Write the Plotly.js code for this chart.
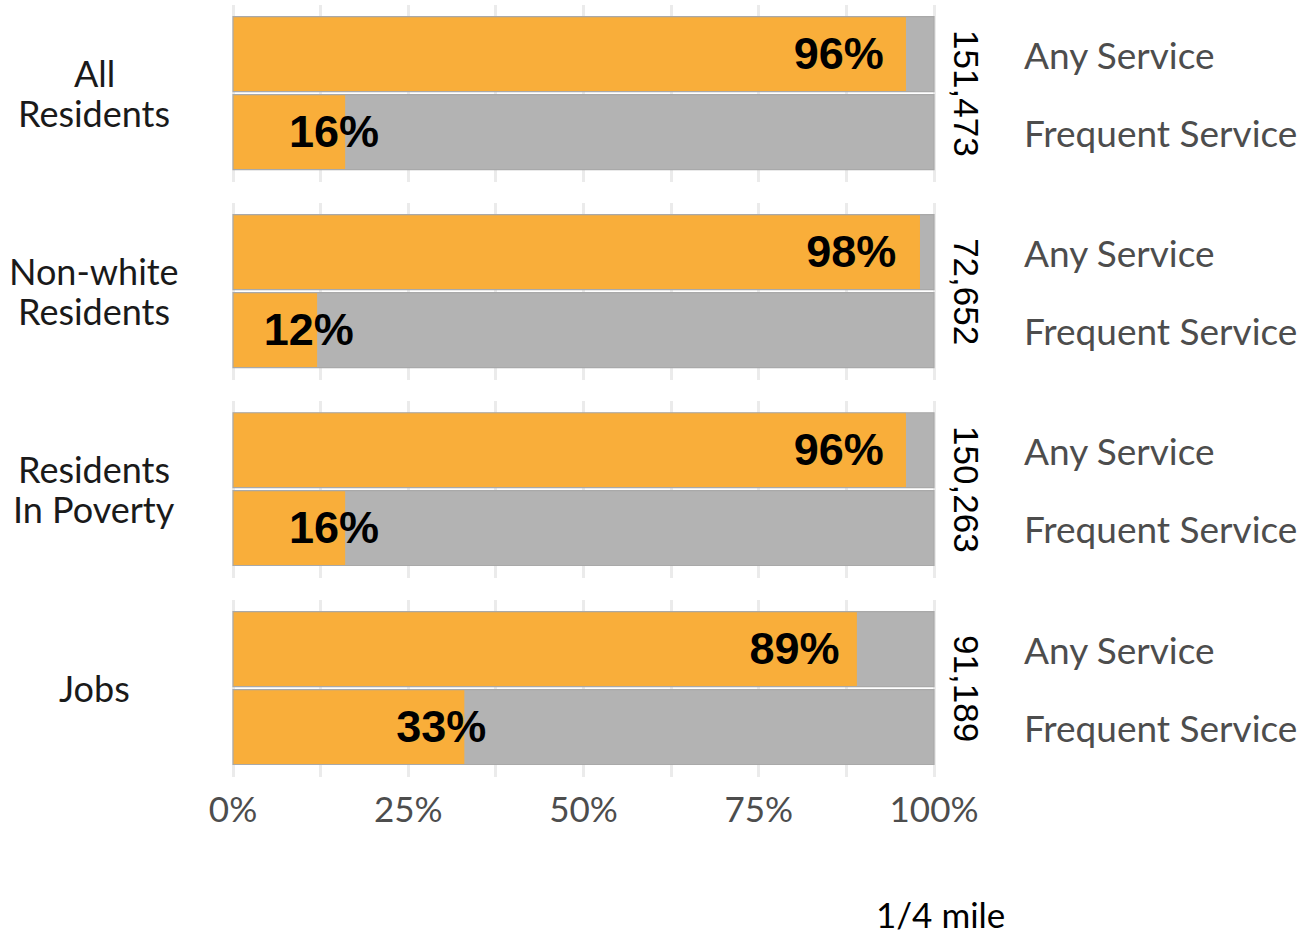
<!DOCTYPE html>
<html>
<head>
<meta charset="utf-8">
<script src="https://cdn.plot.ly/plotly-3.0.1.min.js"></script>
<style>html,body{margin:0;padding:0;background:#fff;}#chart{width:1305px;height:938px;}</style>
</head>
<body>
<div id="chart"></div>
<script>
const groups = ["All<br>Residents", "Non-white<br>Residents", "Residents<br>In Poverty", "Jobs"];
const anyService = [96, 98, 96, 89];
const frequentService = [16, 12, 16, 33];
const totals = ["151,473", "72,652", "150,263", "91,189"];
const serviceLabels = ["Any Service", "Frequent Service"];
const xTickVals = [0, 25, 50, 75, 100];
const xTickText = ["0%", "25%", "50%", "75%", "100%"];
const footerLabel = "1/4 mile";

const ORANGE = "#F9AE3A", GREY = "#B3B3B3", OUTLINE = "#A9A9A9", GRID = "#EBEBEB";
const domains = [[0.7707, 1.0], [0.5142, 0.7435], [0.2578, 0.4870], [0.0, 0.2293]];
const traces = [];
const annotations = [];
// plot area: 231..936 px, x range padded so that 0 -> 233 px and 100 -> 934 px
const L = 231, R = 369, W = 1305 - L - R;
const px = p => (p - L) / W;
const layout = {
  width: 1305, height: 938,
  margin: {l: L, r: R, t: 5, b: 161},
  paper_bgcolor: "#fff", plot_bgcolor: "#fff",
  barmode: "overlay", showlegend: false, bargap: 0.04,
  font: {family: "Lato, sans-serif"}
};

groups.forEach((g, i) => {
  const k = i + 1;
  const xa = k === 1 ? "x" : "x" + k;
  const ya = k === 1 ? "y" : "y" + k;
  const vals = [anyService[i], frequentService[i]];
  const ys = [1, 0];
  traces.push({type: "bar", orientation: "h", x: [100, 100], y: ys, xaxis: xa, yaxis: ya,
    marker: {color: GREY, line: {width: 0}}, hoverinfo: "skip"});
  traces.push({type: "bar", orientation: "h", x: vals, y: ys, xaxis: xa, yaxis: ya,
    marker: {color: ORANGE, line: {width: 0}}, hoverinfo: "skip"});
  traces.push({type: "bar", orientation: "h", x: [100, 100], y: ys, xaxis: xa, yaxis: ya,
    marker: {color: "rgba(0,0,0,0)", line: {width: 1.2, color: OUTLINE}}, hoverinfo: "skip"});
  traces.push({type: "scatter", mode: "text", x: vals.map(v => v * 0.9), y: ys.map(y => y - 0.05), xaxis: xa, yaxis: ya,
    text: vals.map(v => v + "%"), textposition: "middle center",
    textfont: {family: "Liberation Sans, Arial, sans-serif", size: 45, color: "#000", weight: "bold"},
    hoverinfo: "skip", cliponaxis: false});

  layout["xaxis" + (k === 1 ? "" : k)] = {
    anchor: ya, domain: [0, 1], range: [-0.285, 100.285], fixedrange: true,
    tickvals: xTickVals, ticktext: xTickText, showticklabels: k === 4,
    tickfont: {family: "Lato, sans-serif", size: 35, color: "#4D4D4D"},
    ticklabelstandoff: 9,
    ticks: "", showgrid: true, gridcolor: GRID, gridwidth: 3, zeroline: false, showline: false,
    minor: {dtick: 12.5, tick0: 0, showgrid: true, gridcolor: GRID, gridwidth: 3, ticks: ""}
  };
  layout["yaxis" + (k === 1 ? "" : k)] = {
    anchor: xa, domain: domains[i], range: [-0.64, 1.63], fixedrange: true,
    showticklabels: false, showgrid: false, zeroline: false, ticks: ""
  };

  const lines = g.split("<br>");
  lines.forEach((ln, j) => {
    annotations.push({xref: "paper", yref: ya, x: px(94), y: 0.5, text: ln, showarrow: false,
      xanchor: "center", yanchor: "middle", yshift: (lines.length - 1) * 20 - j * 40,
      font: {family: "Lato, sans-serif", size: 36, color: "#1A1A1A"}});
  });
  annotations.push({xref: "paper", yref: ya, x: px(967), y: 0.5, text: totals[i], showarrow: false,
    textangle: 90, xanchor: "center", yanchor: "middle",
    font: {family: "Liberation Sans, Arial, sans-serif", size: 35, color: "#000"}});
  serviceLabels.forEach((s, j) => {
    annotations.push({xref: "paper", yref: ya, x: px(1022), y: ys[j], text: s, showarrow: false,
      xanchor: "left", yanchor: "middle",
      font: {family: "Lato, sans-serif", size: 37, color: "#4D4D4D"}});
  });
});

annotations.push({xref: "paper", yref: "paper", x: px(940), y: -(937 - 777) / 772, text: footerLabel, showarrow: false,
  xanchor: "center", yanchor: "bottom", font: {family: "Lato, sans-serif", size: 35, color: "#000"}});
layout.annotations = annotations;

Plotly.newPlot("chart", traces, layout, {displayModeBar: false, staticPlot: true});
</script>
</body>
</html>
